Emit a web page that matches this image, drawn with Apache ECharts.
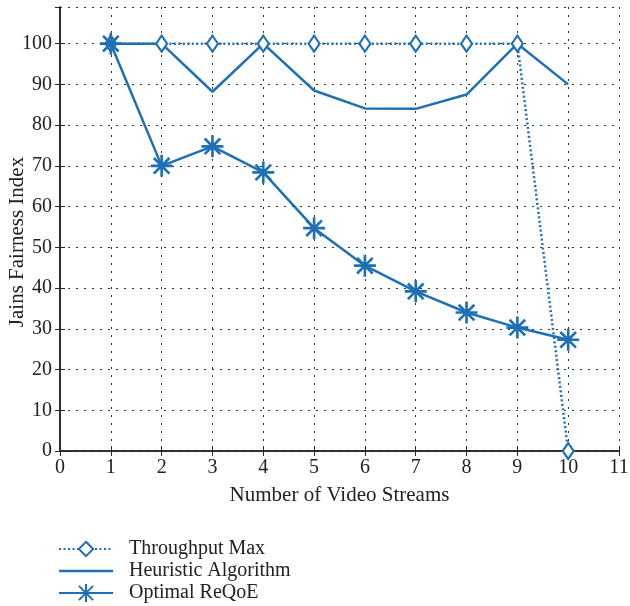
<!DOCTYPE html>
<html>
<head>
<meta charset="utf-8">
<script src="https://cdn.jsdelivr.net/npm/echarts@6/dist/echarts.min.js"></script>
<style>
  html, body { margin: 0; padding: 0; background: #fff; }
  #chart { width: 630px; height: 606px; }
</style>
</head>
<body>
<div id="chart"></div>
<script>
// data
var streams = [1, 2, 3, 4, 5, 6, 7, 8, 9, 10];
var throughputMax = [100, 100, 100, 100, 100, 100, 100, 100, 100, 0];
var heuristic = [100, 100, 88.2, 100, 88.5, 84.1, 84, 87.5, 100, 90];
var optimal = [100, 70, 74.8, 68.4, 54.7, 45.5, 39.2, 34, 30.3, 27.3];
var xTicks = [0, 1, 2, 3, 4, 5, 6, 7, 8, 9, 10, 11];
var yTicks = [0, 10, 20, 30, 40, 50, 60, 70, 80, 90, 100];

var blue = '#1f6fb5';
var axisCol = '#262626';
var font = 'Liberation Serif';

// asterisk marker (vertical, horizontal and two diagonal bars)
var star = 'path://M8.8 0H11.2V20H8.8Z M0 8.8H20V11.2H0Z ' +
  'M3.75 2.05L17.95 16.25L16.25 17.95L2.05 3.75Z ' +
  'M16.25 2.05L17.95 3.75L3.75 17.95L2.05 16.25Z';
// legend icons drawn in a 54x18 box
var plainLine = 'path://M0 0H54V0.01H0Z M0 7.75H54V10.25H0Z M0 17.99H54V18H0Z';
var starLine = 'path://M0 7.9H54V10.1H0Z M26 0H28V18H26Z ' +
  'M20.6 1.2L34.8 15.4L33.4 16.8L19.2 2.6Z M33.4 1.2L34.8 2.6L20.6 16.8L19.2 15.4Z';

function pairs(ys) {
  return streams.map(function (x, i) { return [x, ys[i]]; });
}

var chart = echarts.init(document.getElementById('chart'));

var gridLine = { show: true, lineStyle: { color: '#333', type: [2, 6], width: 1 } };

chart.setOption({
  animation: false,
  grid: { left: 60, right: 11, top: 7, bottom: 155, outerBoundsMode: 'none' },
  legend: {
    orient: 'vertical',
    left: 58,
    top: 539,
    height: 90,
    padding: 0,
    itemWidth: 54,
    itemHeight: 18,
    itemGap: 2,
    textStyle: { fontFamily: font, fontSize: 20, color: '#222', padding: [0, 0, 0, 11] },
    data: [
      { name: 'Throughput Max' },
      { name: 'Heuristic Algorithm', icon: plainLine },
      { name: 'Optimal ReQoE', icon: starLine }
    ]
  },
  xAxis: [{
    type: 'value', min: 0, max: 11, interval: 1,
    name: 'Number of Video Streams', nameLocation: 'middle', nameGap: 34,
    nameTextStyle: { fontFamily: font, fontSize: 21, color: '#222' },
    axisLine: { show: true, lineStyle: { color: axisCol, width: 1.5 } },
    axisTick: { show: true, inside: true, length: 5, lineStyle: { color: axisCol } },
    axisLabel: {
      fontFamily: font, fontSize: 20, color: '#222', margin: 7,
      formatter: function (v) { return xTicks.indexOf(v) >= 0 ? String(v) : ''; }
    },
    splitLine: gridLine
  }, {
    type: 'value', min: 0, max: 11, interval: 1, position: 'top',
    axisLine: { show: true, lineStyle: { color: axisCol, width: 1.5 } },
    axisTick: { show: true, inside: true, length: 5, lineStyle: { color: axisCol } },
    axisLabel: { show: false }, splitLine: { show: false }
  }],
  yAxis: [{
    type: 'value', min: 0, max: 109, interval: 10,
    name: 'Jains Fairness Index', nameLocation: 'middle', nameGap: 32,
    nameMoveOverlap: false,
    nameTextStyle: { fontFamily: font, fontSize: 21, color: '#222', padding: [0, 26, 0, 0] },
    axisLine: { show: true, lineStyle: { color: axisCol, width: 1.5 } },
    axisTick: { show: true, inside: true, length: 5, lineStyle: { color: axisCol } },
    axisLabel: {
      fontFamily: font, fontSize: 20, color: '#222', margin: 8, showMaxLabel: false,
      formatter: function (v) { return yTicks.indexOf(v) >= 0 ? String(v) : ''; }
    },
    splitLine: gridLine
  }, {
    type: 'value', min: 0, max: 109, interval: 10, position: 'right',
    axisLine: { show: true, lineStyle: { color: axisCol, width: 1.5 } },
    axisTick: { show: true, inside: true, length: 5, lineStyle: { color: axisCol } },
    axisLabel: { show: false }, splitLine: { show: false }
  }],
  series: [{
    name: 'Throughput Max',
    type: 'line',
    data: pairs(throughputMax),
    symbol: 'diamond',
    symbolSize: [11, 16],
    itemStyle: { color: '#fff', borderColor: blue, borderWidth: 2.2 },
    lineStyle: { color: blue, width: 2.5, type: [2, 2.5] },
    z: 3
  }, {
    name: 'Heuristic Algorithm',
    type: 'line',
    data: pairs(heuristic),
    symbol: 'none',
    itemStyle: { color: blue },
    lineStyle: { color: blue, width: 2.5 },
    z: 2
  }, {
    name: 'Optimal ReQoE',
    type: 'line',
    data: pairs(optimal),
    symbol: star,
    symbolSize: 22,
    itemStyle: { color: blue },
    lineStyle: { color: blue, width: 2.5 },
    z: 4
  }]
});
</script>
</body>
</html>
